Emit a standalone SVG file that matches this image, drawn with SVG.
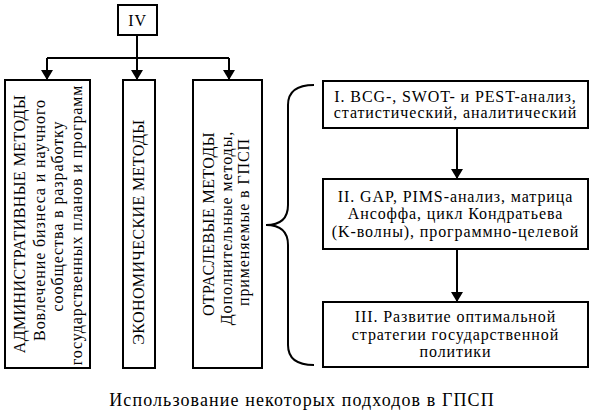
<svg xmlns="http://www.w3.org/2000/svg" width="595" height="419" viewBox="0 0 595 419">
<style>
.box{fill:#fff;stroke:#000;stroke-width:2}
.ln{fill:none;stroke:#000;stroke-width:2}
text{font-family:"Liberation Serif","Times New Roman",serif;font-size:16px;fill:#000;text-anchor:middle;letter-spacing:0.9px}
.up{letter-spacing:0.4px}
.cap{font-size:18px;letter-spacing:1.1px}
</style>
<defs>
<marker id="ah" viewBox="0 0 10 12" refX="10" refY="6" markerWidth="10" markerHeight="12" markerUnits="userSpaceOnUse" orient="auto">
<path d="M0,0 L10,6 L0,12 Z" fill="#000"/>
</marker>
</defs>
<g id="connectors">
<path class="ln" d="M137,35 V58"/>
<path class="ln" d="M47,58 H229"/>
<path class="ln" d="M47,58 V80" marker-end="url(#ah)"/>
<path class="ln" d="M137,58 V80" marker-end="url(#ah)"/>
<path class="ln" d="M229,58 V80" marker-end="url(#ah)"/>
<path class="ln" d="M457,128 V179" marker-end="url(#ah)"/>
<path class="ln" d="M457,249 V302" marker-end="url(#ah)"/>
<path id="brace" class="ln" d="M314,85 Q288,85 288,105 V205 Q288,225 266,225 Q288,225 288,245 V345 Q288,365 314,365"/>
</g>
<g id="n-iv"><rect class="box" x="118" y="5" width="39" height="30"/><text x="137.5" y="26">IV</text></g>
<g id="n-adm"><rect class="box" x="5" y="80" width="85" height="288"/>
<text class="up" transform="translate(25,224) rotate(-90)">АДМИНИСТРАТИВНЫЕ МЕТОДЫ</text>
<text transform="translate(45,220) rotate(-90)">Вовлечение бизнеса и научного</text>
<text transform="translate(63,216) rotate(-90)">сообщества в разработку</text>
<text transform="translate(82,225) rotate(-90)">государственных планов и программ</text>
</g>
<g id="n-eco"><rect class="box" x="123" y="80" width="32" height="288"/>
<text class="up" transform="translate(144,232) rotate(-90)">ЭКОНОМИЧЕСКИЕ МЕТОДЫ</text>
</g>
<g id="n-otr"><rect class="box" x="193" y="80" width="69" height="288"/>
<text class="up" transform="translate(214,224) rotate(-90)">ОТРАСЛЕВЫЕ МЕТОДЫ</text>
<text transform="translate(232,228) rotate(-90)">Дополнительные методы,</text>
<text transform="translate(249,222) rotate(-90)">применяемые в ГПСП</text>
</g>
<g id="n-1"><rect class="box" x="323" y="81" width="265" height="47"/>
<text x="455.5" y="102">I. BCG-, SWOT- и PEST-анализ,</text>
<text x="455.5" y="118">статистический, аналитический</text>
</g>
<g id="n-2"><rect class="box" x="323" y="179" width="265" height="70"/>
<text x="455.5" y="202">II. GAP, PIMS-анализ, матрица</text>
<text x="455.5" y="219">Ансоффа, цикл Кондратьева</text>
<text x="455.5" y="237">(K-волны), программно-целевой</text>
</g>
<g id="n-3"><rect class="box" x="323" y="302" width="265" height="65"/>
<text x="455.5" y="322">III. Развитие оптимальной</text>
<text x="455.5" y="340">стратегии государственной</text>
<text x="455.5" y="357">политики</text>
</g>
<text class="cap" x="302" y="406">Использование некоторых подходов в ГПСП</text>
</svg>
